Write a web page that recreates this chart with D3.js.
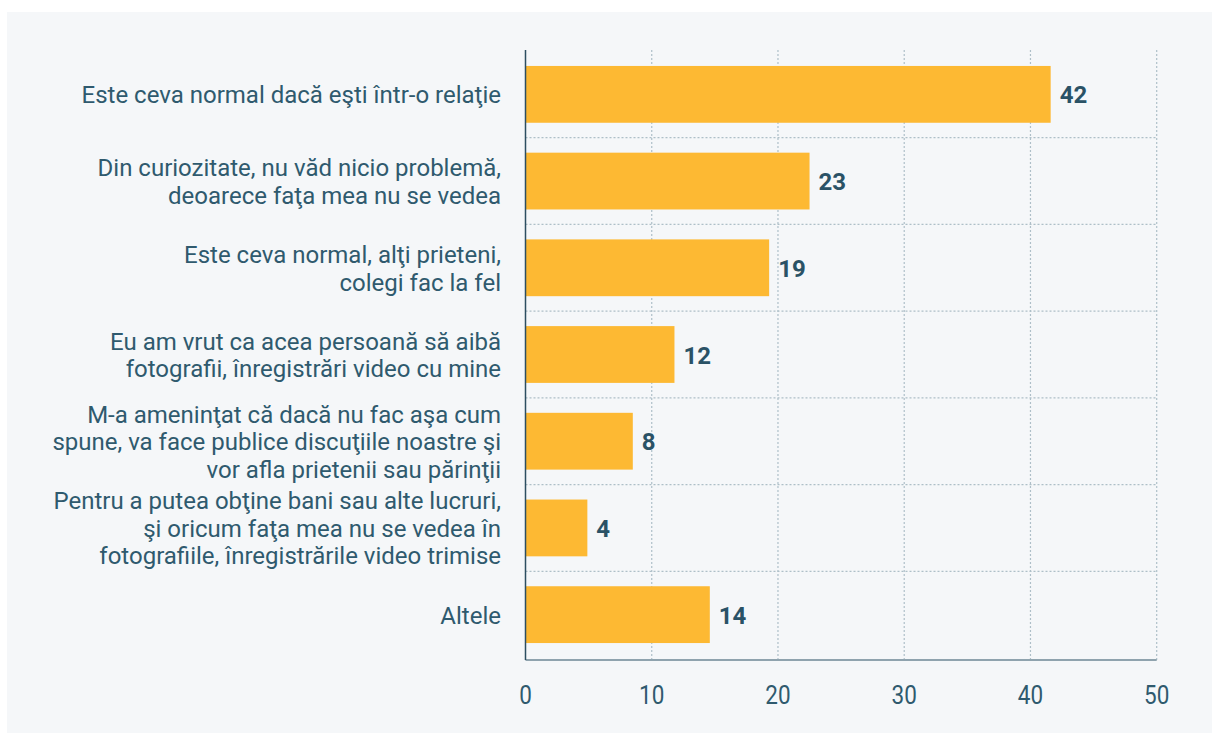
<!DOCTYPE html>
<html>
<head>
<meta charset="utf-8">
<script src="https://cdn.jsdelivr.net/npm/d3@7"></script>
<style>
  html, body { margin: 0; padding: 0; background: #ffffff; }
  svg { display: block; }
  text { font-family: Roboto, "Noto Sans", sans-serif; }
</style>
</head>
<body>
<svg id="chart" width="1212" height="733"></svg>
<script>
// ---- data ----
const categories = [
  ["Este ceva normal dacă eşti într-o relaţie"],
  ["Din curiozitate, nu văd nicio problemă,", "deoarece faţa mea nu se vedea"],
  ["Este ceva normal, alţi prieteni,", "colegi fac la fel"],
  ["Eu am vrut ca acea persoană să aibă", "fotografii, înregistrări video cu mine"],
  ["M-a ameninţat că dacă nu fac aşa cum", "spune, va face publice discuţiile noastre şi", "vor afla prietenii sau părinţii"],
  ["Pentru a putea obţine bani sau alte lucruri,", "şi oricum faţa mea nu se vedea în", "fotografiile, înregistrările video trimise"],
  ["Altele"]
];
const values = [41.6, 22.5, 19.3, 11.8, 8.5, 4.9, 14.6];
const valueLabels = ["42", "23", "19", "12", "8", "4", "14"];
const tickValues = [0, 10, 20, 30, 40, 50];

// ---- layout ----
(function () {
const svg = d3.select("#chart");
const W = 1212, H = 733;
const mLeft = 525.5, mRight = 1156.7, mTop = 51, mBottom = 658, axisY = 660;
const textColor = "#2f5a6e";
const barColor = "#fdb933";
const gridColor = "#aebfc8";

svg.append("rect").attr("x", 7).attr("y", 12).attr("width", W - 7).attr("height", H - 12).attr("fill", "#f5f7f9");

const ids = categories.map((c, i) => "c" + i);
const x = d3.scaleLinear().domain([0, 50]).range([mLeft, mRight]);
const y = d3.scaleBand().domain(ids).range([mTop, mBottom]).paddingInner(0.345).paddingOuter(0.1725);

// horizontal gridlines between bands
const step = y.step();
const gBetween = ids.slice(1).map(id => y(id) - y.paddingInner() * step / 2);
svg.append("g").selectAll("line").data(gBetween).join("line")
  .attr("x1", mLeft).attr("x2", mRight)
  .attr("y1", d => d).attr("y2", d => d)
  .attr("stroke", gridColor).attr("stroke-width", 1.2).attr("stroke-dasharray", "2,2");

// vertical gridlines
svg.append("g").selectAll("line").data(tickValues.slice(1)).join("line")
  .attr("x1", d => x(d)).attr("x2", d => x(d))
  .attr("y1", 50).attr("y2", axisY)
  .attr("stroke", gridColor).attr("stroke-width", 1.2).attr("stroke-dasharray", "2,2");

// bars
svg.append("g").selectAll("rect").data(values).join("rect")
  .attr("x", x(0))
  .attr("y", (d, i) => y(ids[i]))
  .attr("width", d => x(d) - x(0))
  .attr("height", y.bandwidth())
  .attr("fill", barColor);

// value labels
svg.append("g").selectAll("text").data(values).join("text")
  .attr("x", d => x(d) + 9)
  .attr("y", (d, i) => y(ids[i]) + y.bandwidth() / 2 + 9)
  .attr("fill", "#2a5266")
  .attr("font-size", 24)
  .attr("font-weight", 700)
  .text((d, i) => valueLabels[i]);

// category labels
const lh = 27.5;
const catG = svg.append("g");
categories.forEach((lines, i) => {
  const cy = y(ids[i]) + y.bandwidth() / 2;
  const first = cy - (lines.length - 1) * lh / 2 + 9;
  const t = catG.append("text")
    .attr("x", 501).attr("y", first)
    .attr("text-anchor", "end")
    .attr("fill", textColor)
    .attr("font-size", 24);
  lines.forEach((ln, j) => {
    t.append("tspan").attr("x", 501).attr("y", first + j * lh).text(ln);
  });
});

// axes lines
svg.append("line").attr("x1", mLeft).attr("x2", mRight).attr("y1", axisY).attr("y2", axisY)
  .attr("stroke", "#8fa3ae").attr("stroke-width", 2);
svg.append("line").attr("x1", mLeft).attr("x2", mLeft).attr("y1", 50).attr("y2", axisY)
  .attr("stroke", "#2d4e61").attr("stroke-width", 1.5);

// tick labels
svg.append("g").selectAll("text").data(tickValues).join("text")
  .attr("transform", d => `translate(${x(d)},704) scale(0.9,1)`)
  .attr("text-anchor", "middle")
  .attr("fill", textColor)
  .attr("font-size", 25)
  .text(d => d);
})();
</script>
</body>
</html>
